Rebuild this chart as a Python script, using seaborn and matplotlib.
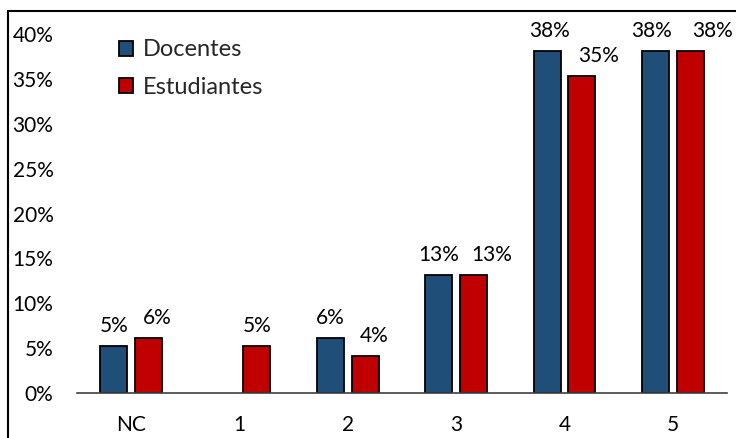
import matplotlib
matplotlib.use("Agg")
import matplotlib.pyplot as plt
from matplotlib.patches import Patch
from matplotlib.lines import Line2D
import pandas as pd
import seaborn as sns

# Survey answers (share of respondents, %)
categories = ["NC", "1", "2", "3", "4", "5"]
docentes = [5.2, 0.0, 6.1, 13.2, 38.1, 38.1]
estudiantes = [6.1, 5.2, 4.1, 13.2, 35.3, 38.1]
groups = ["Docentes", "Estudiantes"]
y_ticks = [0, 5, 10, 15, 20, 25, 30, 35, 40]

colors = {"Docentes": "#1F4E79", "Estudiantes": "#C00000"}

df = pd.DataFrame({
    "categoria": categories * 2,
    "grupo": ["Docentes"] * len(categories) + ["Estudiantes"] * len(categories),
    "valor": docentes + estudiantes,
})

sns.set_theme(style="white")
plt.rcParams["font.family"] = ["Lato", "DejaVu Sans"]

fig = plt.figure(figsize=(7.36, 4.38), dpi=100)
W, H = 736, 438
ax = fig.add_axes([77 / W, 45 / H, 650 / W, (393 - 34) / H])

sns.barplot(data=df, x="categoria", y="valor", hue="grupo", order=categories,
            hue_order=groups, palette=colors, saturation=1, width=0.64, gap=0.22,
            edgecolor="black", linewidth=1.3, legend=False, ax=ax)

ax.set_xlim(-0.5, len(categories) - 0.5)
ax.set_ylim(0, 40)
ax.set_yticks(y_ticks)
ax.set_yticklabels([f"{t}%" for t in y_ticks])
ax.set_xlabel("")
ax.set_ylabel("")
ax.tick_params(axis="both", length=0, labelsize=15, colors="black")
ax.tick_params(axis="y", pad=17)
ax.tick_params(axis="x", pad=16)
for s in ["left", "right", "top"]:
    ax.spines[s].set_visible(False)
ax.spines["bottom"].set_color("#404040")
ax.spines["bottom"].set_linewidth(1.2)

# value labels; the red labels are nudged right so they clear their neighbours
label_dx = {"Docentes": [0, 0, 0, 0, 2, -4], "Estudiantes": [9, 0, 9, 18, 17, 22]}
for grp, cont in zip(groups, ax.containers):
    for i, bar in enumerate(cont.patches):
        h = bar.get_height()
        if h <= 0:
            bar.set_visible(False)
            continue
        ax.annotate(f"{h:.0f}%", (bar.get_x() + bar.get_width() / 2, h),
                    xytext=(label_dx[grp][i], 20), textcoords="offset pixels",
                    ha="center", va="center", fontsize=15, color="black",
                    annotation_clip=False)

handles = [Patch(facecolor=colors[g], edgecolor="black", linewidth=1.3, label=g)
           for g in groups]
ax.legend(handles=handles, loc="upper left", bbox_to_anchor=(0.05, 1.011),
          frameon=False, fontsize=17, handlelength=0.6, handleheight=0.6,
          handletextpad=0.4, labelspacing=0.7, borderaxespad=0)

# outer frame of the chart area
fig.add_artist(Line2D([8 / W, 8 / W], [-0.1, 1 - 11 / H], transform=fig.transFigure,
                      color="black", linewidth=1.5))
fig.add_artist(Line2D([8 / W, 1.1], [1 - 11 / H, 1 - 11 / H], transform=fig.transFigure,
                      color="black", linewidth=1.5))

fig.savefig("out.png", dpi=100)
